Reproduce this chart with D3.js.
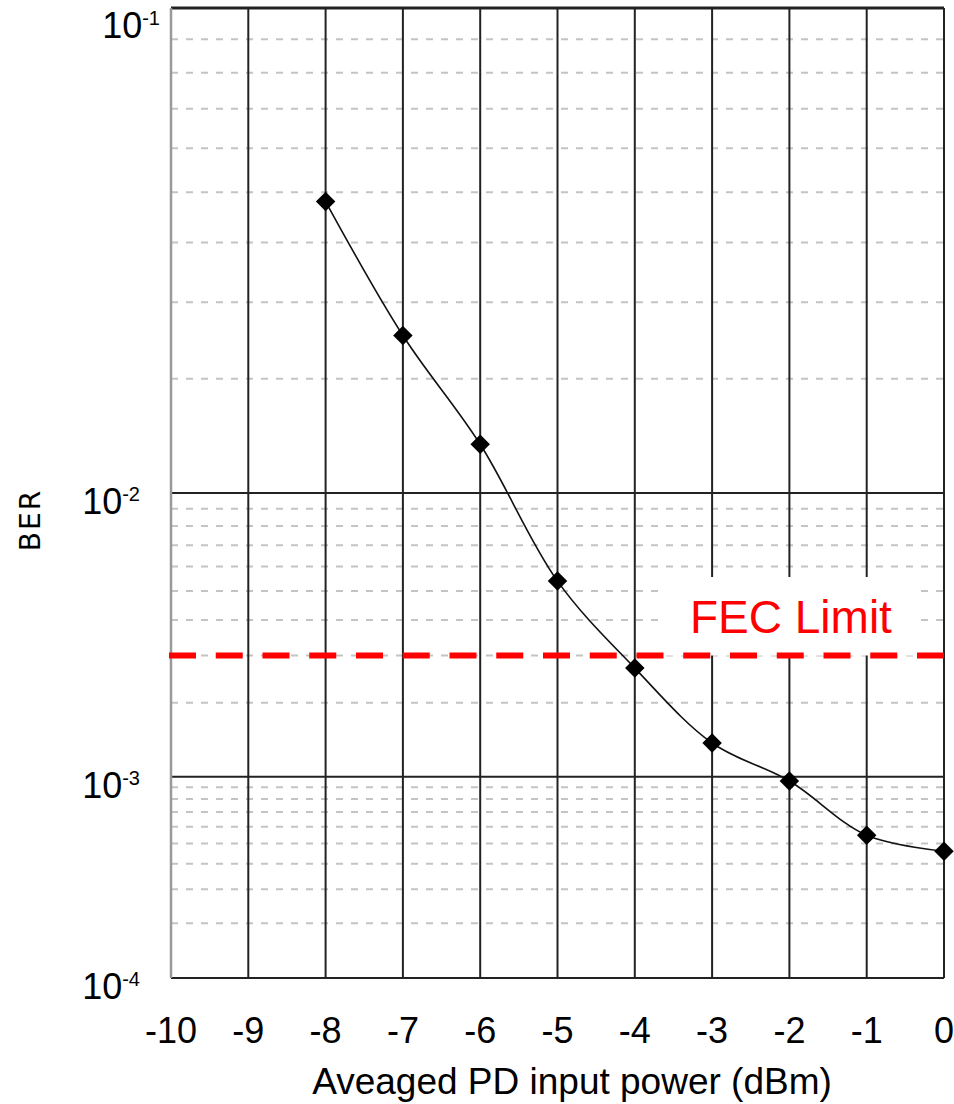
<!DOCTYPE html>
<html><head><meta charset="utf-8">
<script src="https://cdn.jsdelivr.net/npm/d3@7"></script>
<style>body{margin:0;background:#fff}svg{display:block}</style>
</head><body>
<svg id="c" width="954" height="1104"></svg>
<script>
// ---- data ----
const powerDbm = [-8, -7, -6, -5, -4, -3, -2, -1, 0];
const berValues = [0.048, 0.0253, 0.01363, 0.00539, 0.0027, 0.001384, 0.000958, 0.000547, 0.00046];
const fecLimit = 0.003;
const fecLabel = "FEC Limit";
const xTicks = [-10, -9, -8, -7, -6, -5, -4, -3, -2, -1, 0];
const yMajorTicks = [1e-1, 1e-2, 1e-3, 1e-4];
const yTickExponents = ["-1", "-2", "-3", "-4"];
const xTitle = "Aveaged PD input power (dBm)";
const yTitle = "BER";

// ---- layout ----
const L = 171, R = 944, T = 8, B = 978;
const svg = d3.select("#c");
svg.append("rect").attr("width", 954).attr("height", 1104).attr("fill", "#fff");

const x = d3.scaleLinear().domain([-10, 0]).range([L, R]);
// BER axis is linear in log(-log10(BER))
const yT = d3.scaleLog().domain([1, 4]).range([T, B]);
const y = v => yT(-Math.log10(v));

// minor gridlines
const minor = [];
[-4, -3, -2].forEach(d => d3.range(2, 10).forEach(k => minor.push(k * Math.pow(10, d))));
const g = svg.append("g");
g.selectAll("line.minor").data(minor).join("line")
  .attr("x1", L).attr("x2", R).attr("y1", d => y(d)).attr("y2", d => y(d))
  .attr("stroke", "#c4c4c4").attr("stroke-width", 2).attr("stroke-dasharray", "7,8");

// vertical gridlines
g.selectAll("line.v").data(xTicks.filter(t => t > -10)).join("line")
  .attr("x1", d => x(d)).attr("x2", d => x(d)).attr("y1", T).attr("y2", B)
  .attr("stroke", "#222").attr("stroke-width", 2);

// major horizontal lines
g.selectAll("line.maj").data(yMajorTicks).join("line")
  .attr("x1", L).attr("x2", R).attr("y1", d => y(d)).attr("y2", d => y(d))
  .attr("stroke", "#222").attr("stroke-width", d => d === 1e-1 ? 3 : 2);

// left border
g.append("line").attr("x1", L).attr("x2", L).attr("y1", T).attr("y2", B)
  .attr("stroke", "#999").attr("stroke-width", 2.5);

// white box behind FEC label
svg.append("rect").attr("x", 665).attr("y", 577).attr("width", 253).attr("height", y(fecLimit) - 577)
  .attr("fill", "#fff");

// FEC line
svg.append("line").attr("x1", L - 2).attr("x2", R).attr("y1", y(fecLimit)).attr("y2", y(fecLimit))
  .attr("stroke", "#ff0000").attr("stroke-width", 6).attr("stroke-dasharray", "27,19.75");

svg.append("text").attr("x", 690).attr("y", 633).text(fecLabel)
  .attr("font-family", "Liberation Sans, Arial, sans-serif").attr("font-size", 46).attr("fill", "#ff0000");

// curve
const pts = powerDbm.map((p, i) => [x(p), y(berValues[i])]);
svg.append("path").attr("d", d3.line().curve(d3.curveCatmullRom)(pts))
  .attr("fill", "none").attr("stroke", "#111").attr("stroke-width", 1.6);

// markers
svg.selectAll("path.m").data(pts).join("path")
  .attr("d", d3.symbol(d3.symbolSquare, 190)())
  .attr("transform", d => `translate(${d[0]},${d[1]}) rotate(45)`)
  .attr("fill", "#000");

// y tick labels
const yl = svg.selectAll("text.yl").data(yMajorTicks).join("text")
  .attr("text-anchor", "end")
  .attr("x", (d, i) => i === 0 ? 160 : 140)
  .attr("y", d => Math.max(y(d) + 21, 38))
  .attr("font-family", "Liberation Sans, Arial, sans-serif").attr("font-size", 36).attr("fill", "#000");
yl.append("tspan").text("10");
yl.append("tspan").attr("dy", -13).attr("font-size", 20).text((d, i) => yTickExponents[i]);

// x tick labels
svg.selectAll("text.xl").data(xTicks).join("text")
  .attr("text-anchor", "middle").attr("x", d => x(d)).attr("y", 1043)
  .attr("font-family", "Liberation Sans, Arial, sans-serif").attr("font-size", 36).attr("fill", "#000")
  .text(d => d);

// axis titles
svg.append("text").attr("text-anchor", "middle").attr("x", 572).attr("y", 1094)
  .attr("font-family", "Liberation Sans, Arial, sans-serif").attr("font-size", 37).attr("fill", "#000")
  .text(xTitle);
svg.append("text").attr("text-anchor", "middle")
  .attr("transform", "translate(40,520) rotate(-90)")
  .attr("font-family", "DejaVu Sans, sans-serif").attr("font-size", 28).attr("letter-spacing", 2).attr("fill", "#000")
  .text(yTitle);
</script>
</body></html>
